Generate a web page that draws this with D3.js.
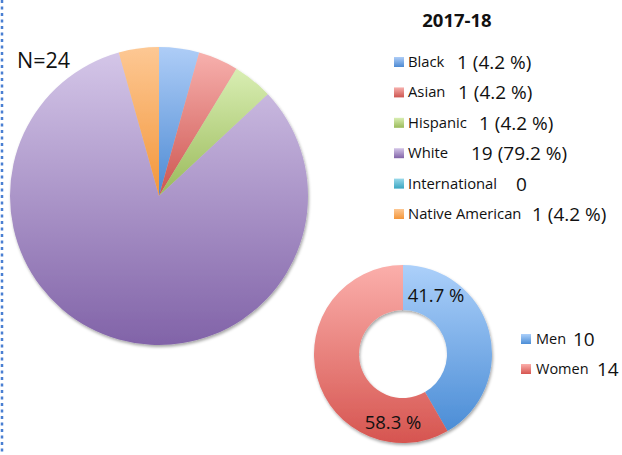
<!DOCTYPE html>
<html>
<head>
<meta charset="utf-8">
<script src="https://cdn.jsdelivr.net/npm/d3@7"></script>
<style>
  body { margin: 0; background: #fff; }
  svg { display: block; font-family: "Open Sans", Lato, sans-serif; }
</style>
</head>
<body>
<div id="chart"></div>
<script>
// donnees
const ethnicities = ["Black", "Asian", "Hispanic", "White", "International", "Native American"];
const ethnicityCounts = [1, 1, 1, 19, 0, 1];
const ethnicityLabels = ["1 (4.2 %)", "1 (4.2 %)", "1 (4.2 %)", "19 (79.2 %)", "0", "1 (4.2 %)"];
const genders = ["Men", "Women"];
const genderCounts = [10, 14];
const genderPct = ["41.7 %", "58.3 %"];
const title = "2017-18";
const total = "N=24";

// couleurs (haut clair -> bas fonce)
const ethColors = [["#aecdf7", "#4d8ad3"], ["#f7b0ad", "#cd5550"], ["#d9eeb3", "#9aba5a"],
                   ["#d4c6e8", "#8163a8"], ["#9ad9ea", "#3aa6c2"], ["#fdc894", "#f3963a"]];
const genColors = [["#acd0fa", "#4b8dd6"], ["#fbafab", "#d65550"]];

const width = 622, height = 455;
const svg = d3.select("#chart").append("svg")
    .attr("width", width)
    .attr("height", height);

const defs = svg.append("defs");
function grad(id, c) {
    const g = defs.append("linearGradient").attr("id", id)
        .attr("x1", 0).attr("y1", 0).attr("x2", 0).attr("y2", 1);
    g.append("stop").attr("offset", "0%").attr("stop-color", c[0]);
    g.append("stop").attr("offset", "100%").attr("stop-color", c[1]);
}
ethColors.forEach((c, i) => grad("eth" + i, c));
genColors.forEach((c, i) => grad("gen" + i, c));

const shadow = defs.append("filter").attr("id", "shadow")
    .attr("x", "-10%").attr("y", "-10%").attr("width", "125%").attr("height", "125%");
shadow.append("feDropShadow").attr("dx", 1).attr("dy", 2).attr("stdDeviation", 1.5)
    .attr("flood-color", "#000").attr("flood-opacity", 0.35);

// bordure pointillee a gauche
svg.append("line")
    .attr("x1", 2).attr("x2", 2).attr("y1", 0).attr("y2", 453)
    .attr("stroke", "#4a7fd2").attr("stroke-width", 2.5)
    .attr("stroke-dasharray", "3,3.5");

// camembert principal
const pie = d3.pie().sort(null).value(d => d);
const arcBig = d3.arc().innerRadius(0).outerRadius(149);
const gPie = svg.append("g")
    .attr("transform", "translate(159,196)")
    .attr("filter", "url(#shadow)");
gPie.selectAll("path").data(pie(ethnicityCounts)).enter()
    .append("path")
    .attr("d", arcBig)
    .attr("fill", (d, i) => "url(#eth" + i + ")");

svg.append("text")
    .attr("x", 17).attr("y", 68)
    .attr("font-size", 21.5)
    .attr("fill", "#111")
    .text(total);

// titre
svg.append("text")
    .attr("x", 457).attr("y", 27)
    .attr("text-anchor", "middle")
    .attr("font-size", 18.5).attr("font-weight", "bold")
    .attr("fill", "#111")
    .text(title);

// legende ethnies
const valueX = [457, 458, 479, 471, 516, 532];
const leg = svg.selectAll(".leg").data(ethnicities).enter()
    .append("g")
    .attr("class", "leg")
    .attr("transform", (d, i) => "translate(0," + (62 + i * 30.4) + ")");
leg.append("rect")
    .attr("x", 394).attr("y", -5).attr("width", 10).attr("height", 10)
    .attr("fill", (d, i) => "url(#eth" + i + ")");
leg.append("text")
    .attr("x", 408).attr("y", 5)
    .attr("font-size", 14.8).attr("fill", "#111")
    .text(d => d);
leg.append("text")
    .attr("x", (d, i) => valueX[i]).attr("y", 7)
    .attr("font-size", 19).attr("fill", "#111")
    .text((d, i) => ethnicityLabels[i]);

// anneau hommes / femmes
const arcRing = d3.arc().innerRadius(44).outerRadius(89);
const gRing = svg.append("g")
    .attr("transform", "translate(403,354)")
    .attr("filter", "url(#shadow)");
gRing.selectAll("path").data(pie(genderCounts)).enter()
    .append("path")
    .attr("d", arcRing)
    .attr("fill", (d, i) => "url(#gen" + i + ")");

const pctPos = [[436, 302], [393, 429]];
svg.selectAll(".pct").data(genderPct).enter()
    .append("text")
    .attr("class", "pct")
    .attr("x", (d, i) => pctPos[i][0]).attr("y", (d, i) => pctPos[i][1])
    .attr("text-anchor", "middle")
    .attr("font-size", 18.5).attr("fill", "#111")
    .text(d => d);

const valX2 = [573, 597];
const leg2 = svg.selectAll(".leg2").data(genders).enter()
    .append("g")
    .attr("class", "leg2")
    .attr("transform", (d, i) => "translate(0," + (339 + i * 30) + ")");
leg2.append("rect")
    .attr("x", 521).attr("y", -5).attr("width", 10).attr("height", 10)
    .attr("fill", (d, i) => "url(#gen" + i + ")");
leg2.append("text")
    .attr("x", 536).attr("y", 5)
    .attr("font-size", 14.5).attr("fill", "#111")
    .text(d => d);
leg2.append("text")
    .attr("x", (d, i) => valX2[i]).attr("y", 7)
    .attr("font-size", 19).attr("fill", "#111")
    .text((d, i) => genderCounts[i]);
</script>
</body>
</html>
